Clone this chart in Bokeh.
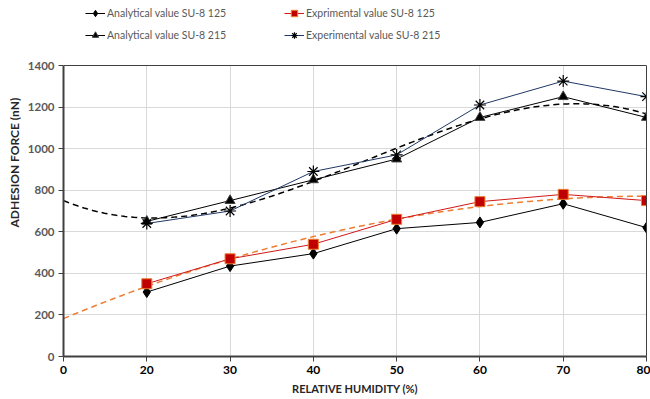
import numpy as np
from bokeh.plotting import figure
from bokeh.models import Legend, LegendItem, FixedTicker, Range1d, Span, LinearAxis, Grid, Title
from bokeh.embed import file_html
from bokeh.resources import INLINE

categories = ["0", "20", "30", "40", "50", "60", "70", "80"]
humidity = ["20", "30", "40", "50", "60", "70", "80"]
analytical_125 = [310, 435, 495, 615, 645, 735, 620]
experimental_125 = [350, 470, 540, 660, 745, 780, 750]
analytical_215 = [650, 750, 850, 950, 1150, 1250, 1150]
experimental_215 = [640, 700, 890, 970, 1210, 1325, 1250]
y_ticks = [0, 200, 400, 600, 800, 1000, 1200, 1400]

xpos = [categories.index(h) for h in humidity]

FONT = "Lato"
YMAX = 1400
FRAME_H = 356           # frame reaches the top of the page; legend lives above the 1400 line
PLOT_H = 291            # height of the visible plotting box (0..1400)
p = figure(title=None, frame_width=583, frame_height=FRAME_H, output_backend="svg", toolbar_location=None,
           x_range=Range1d(0, len(categories) - 1), y_range=Range1d(0, YMAX * FRAME_H / PLOT_H),
           min_border_left=63, min_border_right=4, min_border_top=0, min_border_bottom=43)
p.outline_line_color = None

# grid
p.xgrid.grid_line_color = "#D9D9D9"
p.ygrid.grid_line_color = "#D9D9D9"
p.xaxis.ticker = FixedTicker(ticks=list(range(len(categories))))
p.xaxis.major_label_overrides = {i: c for i, c in enumerate(categories)}
p.yaxis.ticker = FixedTicker(ticks=y_ticks)
p.ygrid.ticker = FixedTicker(ticks=y_ticks)
p.yaxis.bounds = (0, YMAX)
if "cross_bounds" in Grid.properties():
    p.xgrid.cross_bounds = (0, YMAX)
else:
    p.xgrid.grid_line_color = None
    p.segment(x0=list(range(len(categories))), y0=[0] * len(categories),
              x1=list(range(len(categories))), y1=[YMAX] * len(categories), line_color="#D9D9D9")
p.xaxis.minor_tick_line_color = None
p.yaxis.minor_tick_line_color = None
for ax in (p.xaxis, p.yaxis):
    ax.axis_line_color = "#404040"
    ax.axis_line_width = 2
    ax.major_tick_line_color = "#404040"
    ax.major_tick_in = 0
    ax.major_tick_out = 5
    ax.major_label_text_font = FONT
    ax.major_label_text_font_style = "bold"
    ax.axis_label_text_font = FONT
    ax.axis_label_text_font_style = "bold"
    ax.axis_label_text_color = "#262626"
p.xaxis.major_label_text_font_size = "12px"
p.yaxis.major_label_text_font_size = "11.5px"
p.xaxis.axis_label_text_font_size = "11px"
p.xaxis.major_label_text_color = "#000000"
p.yaxis.major_label_text_color = "#595959"
p.xaxis.axis_label = "RELATIVE HUMIDITY (%)"
p.xaxis.major_label_standoff = 4
p.xaxis.axis_label_standoff = 5
p.yaxis.major_label_standoff = 4

# y-axis title centred on the 0..1400 box rather than on the whole frame
ytitle = Title(text="ADHESION FORCE (nN)", align="left", offset=129, standoff=6,
               text_font=FONT, text_font_style="bold", text_font_size="12px", text_color="#262626")
p.add_layout(ytitle, "left")

# box: top line and right line of the plotting area
p.add_layout(Span(location=YMAX, dimension="width", line_color="#404040", line_width=1))
right_axis = LinearAxis(bounds=(0, YMAX), ticker=FixedTicker(ticks=[]), axis_line_color="#404040",
                        axis_line_width=1, major_tick_line_color=None, minor_tick_line_color=None)
p.add_layout(right_axis, "right")

# trendlines (Excel-style fits over category index)
xs = np.linspace(0, len(categories) - 1, 200)
c3 = np.polyfit(xpos, analytical_215, 3)
p.line(xs, np.polyval(c3, xs), line_color="black", line_dash="6 4", line_width=1.5)
c2 = np.polyfit(xpos, experimental_125, 2)
p.line(xs, np.polyval(c2, xs), line_color="#ED7D31", line_dash="6 4", line_width=1.5)

# series
l1 = p.line(xpos, analytical_125, line_color="black", line_width=1)
m1 = p.scatter(xpos, analytical_125, marker="diamond", size=11, fill_color="black", line_color="black")
l2 = p.line(xpos, experimental_125, line_color="#D01818", line_width=1)
m2 = p.scatter(xpos, experimental_125, marker="square", size=10, fill_color="#C00000", line_color="#ED7D31", line_width=1)
l3 = p.line(xpos, analytical_215, line_color="black", line_width=1)
m3 = p.scatter(xpos, analytical_215, marker="triangle", size=10, fill_color="black", line_color="#404040")
l4 = p.line(xpos, experimental_215, line_color="#203864", line_width=1)
m4 = p.scatter(xpos, experimental_215, marker="asterisk", size=12, line_color="black", line_width=1.2)

legend = Legend(items=[
    LegendItem(label="Analytical value SU-8 125", renderers=[l1, m1]),
    LegendItem(label="Analytical value SU-8 215", renderers=[l3, m3]),
    LegendItem(label="Exprimental value SU-8 125", renderers=[l2, m2]),
    LegendItem(label="Experimental value SU-8 215", renderers=[l4, m4]),
], ncols=2, location=(22, 313), padding=0, margin=0, spacing=6, glyph_height=16, glyph_width=20,
   label_height=16, label_width=171, label_standoff=2, border_line_color=None,
   background_fill_alpha=0, label_text_font=FONT, label_text_font_size="10.5px",
   label_text_color="#595959")
p.add_layout(legend, "center")

open("out.html", "w").write(file_html(p, INLINE))
